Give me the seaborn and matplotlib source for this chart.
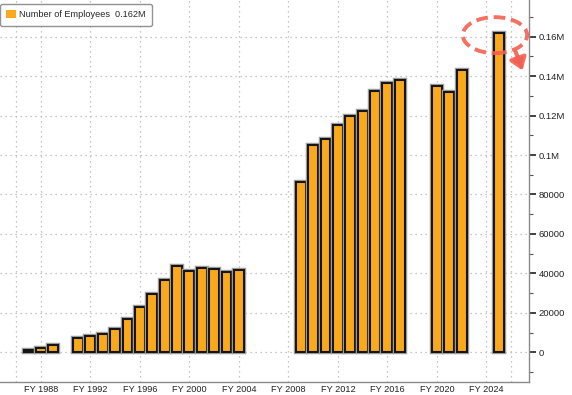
import numpy as np
import pandas as pd
import seaborn as sns
import matplotlib.pyplot as plt
from matplotlib.patches import Patch, Ellipse
from matplotlib.ticker import FixedLocator, FuncFormatter, MultipleLocator
import matplotlib.patheffects as pe

# fiscal years and headcount
years = [1987, 1988, 1989,
         1991, 1992, 1993, 1994, 1995, 1996, 1997, 1998, 1999, 2000, 2001, 2002, 2003, 2004,
         2009, 2010, 2011, 2012, 2013, 2014, 2015, 2016, 2017,
         2020, 2021, 2022,
         2025]
employees = [1200, 2200, 4000,
             7400, 8300, 9100, 12000, 16700, 23100, 29400, 36600, 44000, 41500, 42900, 42200, 40600, 41600,
             86200, 105300, 108300, 115000, 120000, 122100, 132600, 136300, 138000,
             135100, 132100, 143100,
             162000]
label_years = list(range(1988, 2025, 4))
legend_label = "Number of Employees  0.162M"

df = pd.DataFrame({"year": years, "employees": employees})

sns.set_style("white")
plt.rcParams['font.family'] = ['Liberation Sans', 'DejaVu Sans']

fig = plt.figure(figsize=(5.72, 3.95), dpi=100)
ax = fig.add_axes([0.0, 0.0337, 0.9248, 0.9663])

sns.barplot(data=df, x="year", y="employees", native_scale=True, ax=ax,
            color="#FBA91C", edgecolor="#151515", linewidth=1.5, width=0.8,
            saturation=1)
for p in ax.patches:
    p.set_path_effects([pe.Stroke(linewidth=3.2, foreground="#a0a0a0"), pe.Normal()])

ax.set_xlim(1984.69, 2027.45)
ax.set_ylim(-14800, 178500)

# axes on the right, Bloomberg style
ax.yaxis.tick_right()
ax.yaxis.set_major_locator(MultipleLocator(20000))
ax.yaxis.set_minor_locator(MultipleLocator(10000))

def fmt(v, pos):
    if v >= 100000:
        return f"{v/1e6:g}M"
    return f"{int(v)}"

ax.yaxis.set_major_formatter(FuncFormatter(fmt))
ax.set_yticks([t for t in range(0, 170001, 20000)])
ax.tick_params(axis="y", which="major", direction="out", length=5, width=1.2,
               color="#222222", labelsize=6.8, pad=2, labelcolor="#222222")
ax.tick_params(axis="y", which="minor", direction="out", length=3, width=0.8, color="#555555")

ax.xaxis.set_major_locator(FixedLocator(label_years))
ax.set_xticklabels([f"FY {y}" for y in label_years])
ax.xaxis.set_minor_locator(FixedLocator([1986, 2026]))
ax.tick_params(axis="x", which="major", length=0, labelsize=6.6, pad=2.5, labelcolor="#222222")
ax.tick_params(axis="x", which="minor", direction="out", length=3, width=1.2, color="#222222")

ax.grid(True, which="major", axis="both", color="#b5b5b5", linestyle=(0, (1, 3)), linewidth=0.9)
ax.grid(True, which="minor", axis="x", color="#b5b5b5", linestyle=(0, (1, 3)), linewidth=0.9)
ax.set_axisbelow(True)

for side in ["left", "top"]:
    ax.spines[side].set_visible(False)
for side in ["right", "bottom"]:
    ax.spines[side].set_color("#8a8a8a")
    ax.spines[side].set_linewidth(1.0)

ax.set_xlabel("")
ax.set_ylabel("")

leg = ax.legend(handles=[Patch(facecolor="#FBA91C", edgecolor="none", label=legend_label)],
                loc="upper left", bbox_to_anchor=(0.0, 0.99), fontsize=6.6, frameon=True,
                fancybox=True, handlelength=1.0, handleheight=1.0, handletextpad=0.4,
                borderpad=0.7, borderaxespad=0.0)
leg.get_frame().set_edgecolor("#777777")
leg.get_frame().set_linewidth(1.0)

# red annotation around the latest value
ax.add_patch(Ellipse((2024.7, 160700), 5.2, 18200, fill=False, edgecolor="#F26052",
                     linestyle=(0, (3, 1.5)), linewidth=2.8, alpha=0.9, zorder=5, clip_on=False))
ax.annotate("", xy=(2027.0, 141500), xytext=(2026.3, 153500),
            arrowprops=dict(arrowstyle="-|>,head_length=0.7,head_width=0.5",
                            color="#F26052", lw=3, alpha=0.9), zorder=6)

fig.savefig("out.png", dpi=100)
